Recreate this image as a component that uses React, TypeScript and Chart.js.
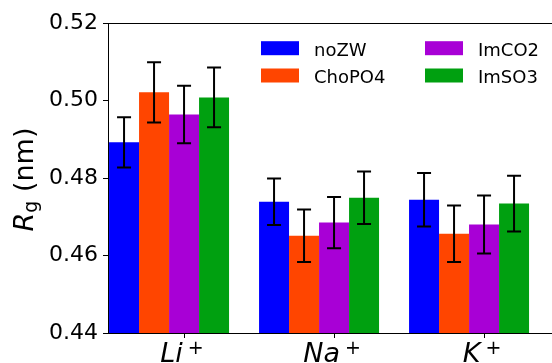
import React, { useEffect, useRef } from "react";
import { Chart, registerables } from "chart.js";

Chart.register(...registerables);

// ---- data ----
const categories = ["Li", "Na", "K"];
const chargeSign = "+";
const seriesNames = ["noZW", "ChoPO4", "ImCO2", "ImSO3"];

const noZW = [0.4892, 0.4739, 0.4744];
const noZWErr = [0.0065, 0.006, 0.0069];
const choPO4 = [0.5021, 0.4651, 0.4656];
const choPO4Err = [0.0078, 0.0068, 0.0073];
const imCO2 = [0.4964, 0.4685, 0.468];
const imCO2Err = [0.0074, 0.0066, 0.0075];
const imSO3 = [0.5008, 0.4749, 0.4734];
const imSO3Err = [0.0077, 0.0068, 0.0072];

const yTicks = [0.44, 0.46, 0.48, 0.5, 0.52];

const seriesValues = [noZW, choPO4, imCO2, imSO3];
const seriesErrors = [noZWErr, choPO4Err, imCO2Err, imSO3Err];
const seriesColors = ["#0000ff", "#ff4500", "#a800d6", "#00a010"];

const FONT = "'DejaVu Sans', sans-serif";

const errorBarsPlugin = {
  id: "errorBars",
  afterDatasetsDraw(chart: any) {
    const { ctx } = chart;
    const yScale = chart.scales.y;
    ctx.save();
    ctx.strokeStyle = "#000";
    ctx.lineWidth = 2;
    chart.data.datasets.forEach((_ds: any, di: number) => {
      const meta = chart.getDatasetMeta(di);
      meta.data.forEach((bar: any, i: number) => {
        const v = seriesValues[di][i];
        const e = seriesErrors[di][i];
        const x = bar.x;
        const t = yScale.getPixelForValue(v + e);
        const b = yScale.getPixelForValue(v - e);
        const cap = 7;
        ctx.beginPath();
        ctx.moveTo(x, t);
        ctx.lineTo(x, b);
        ctx.moveTo(x - cap, t);
        ctx.lineTo(x + cap, t);
        ctx.moveTo(x - cap, b);
        ctx.lineTo(x + cap, b);
        ctx.stroke();
      });
    });
    ctx.restore();
  },
};

const decorPlugin = {
  id: "decor",
  afterDraw(chart: any) {
    const { ctx, chartArea } = chart;
    const { left, right, top, bottom } = chartArea;
    ctx.save();

    // top spine
    ctx.strokeStyle = "#000";
    ctx.lineWidth = 1;
    ctx.beginPath();
    const ty = Math.round(top) + 0.5;
    ctx.moveTo(left, ty);
    ctx.lineTo(right, ty);
    ctx.stroke();

    // legend (2 columns, column-major)
    ctx.font = `18px ${FONT}`;
    ctx.textAlign = "left";
    ctx.textBaseline = "alphabetic";
    chart.data.datasets.forEach((ds: any, di: number) => {
      const col = Math.floor(di / 2);
      const row = di % 2;
      const bx = left + 153 + col * 164;
      const by = top + 18.2 + row * 27.3;
      ctx.fillStyle = ds.backgroundColor;
      ctx.fillRect(bx, by, 38, 14);
      ctx.fillStyle = "#000";
      ctx.fillText(ds.label, bx + 53, by + 14.3);
    });

    // x tick labels (italic with superscript)
    const xl = chart.scales.xl;
    categories.forEach((cat, i) => {
      const cx = xl.getPixelForValue(i) - 2;
      ctx.font = `italic 27px ${FONT}`;
      const wMain = ctx.measureText(cat).width;
      ctx.font = `19px ${FONT}`;
      const wSup = ctx.measureText(chargeSign).width;
      const gap = 5;
      const total = wMain + gap + wSup;
      const sx = cx - total / 2;
      const base = 361.5;
      ctx.fillStyle = "#000";
      ctx.font = `italic 27px ${FONT}`;
      ctx.fillText(cat, sx, base);
      ctx.font = `19px ${FONT}`;
      ctx.fillText(chargeSign, sx + wMain + gap, base - 8);
    });

    // y axis title: R_g (nm)
    const cy = (top + bottom) / 2 + 1.5;
    ctx.translate(33, cy);
    ctx.rotate(-Math.PI / 2);
    ctx.font = `italic 27px ${FONT}`;
    const wR = ctx.measureText("R").width;
    ctx.font = `19px ${FONT}`;
    const wg = ctx.measureText("g").width;
    ctx.font = `27px ${FONT}`;
    const wRest = ctx.measureText(" (nm)").width;
    const start = -(wR + wg + wRest) / 2;
    ctx.fillStyle = "#000";
    ctx.font = `italic 27px ${FONT}`;
    ctx.fillText("R", start, 0);
    ctx.font = `19px ${FONT}`;
    ctx.fillText("g", start + wR, 4);
    ctx.font = `27px ${FONT}`;
    ctx.fillText(" (nm)", start + wR + wg, 0);

    ctx.restore();
  },
};

export default function App() {
  const canvasRef = useRef<HTMLCanvasElement | null>(null);

  useEffect(() => {
    document.body.style.margin = "0";
    const canvas = canvasRef.current;
    if (!canvas) return;
    Chart.defaults.font.family = FONT;

    const chart = new Chart(canvas, {
      type: "bar",
      data: {
        datasets: seriesNames.map((name, di) => ({
          label: name,
          data: categories.map((_c, i) => ({ x: i, y: seriesValues[di][i] })),
          backgroundColor: seriesColors[di],
          borderWidth: 0,
          categoryPercentage: 0.8,
          barPercentage: 1.0,
        })),
      },
      options: {
        responsive: false,
        animation: false,
        devicePixelRatio: 1,
        layout: { padding: { top: 23, right: 0, bottom: 0, left: 0 } },
        plugins: {
          legend: { display: false },
          tooltip: { enabled: false },
        },
        scales: {
          x: {
            type: "linear",
            display: false,
            min: -0.407,
            max: 2.553,
            offset: false,
            ticks: { stepSize: 1, includeBounds: false },
            grid: { offset: false },
          },
          xl: {
            type: "linear",
            position: "bottom",
            min: -0.507,
            max: 2.453,
            offset: false,
            ticks: { stepSize: 1, includeBounds: false, display: false },
            grid: {
              drawOnChartArea: false,
              drawTicks: true,
              tickLength: 5,
              color: "#000",
              tickColor: "#000",
              offset: false,
            },
            border: { display: true, color: "#000", width: 1 },
            afterFit: (s: any) => {
              s.height = 30;
            },
          },
          y: {
            type: "linear",
            min: 0.44,
            max: 0.52,
            beginAtZero: false,
            afterBuildTicks: (s: any) => {
              s.ticks = yTicks.map((v) => ({ value: v }));
            },
            ticks: {
              callback: (v: any) => Number(v).toFixed(2),
              font: { size: 22, family: FONT },
              color: "#000",
              padding: 5,
            },
            grid: {
              drawOnChartArea: false,
              tickLength: 5,
              color: "#000",
              tickColor: "#000",
            },
            border: { display: true, color: "#000", width: 1 },
            afterFit: (s: any) => {
              s.width = 108;
            },
          },
        },
      } as any,
      plugins: [errorBarsPlugin, decorPlugin],
    });

    return () => {
      chart.destroy();
    };
  }, []);

  return (
    <div style={{ position: "absolute", left: 0, top: 0, width: 552, height: 363 }}>
      <canvas ref={canvasRef} width={552} height={363} style={{ display: "block" }} />
    </div>
  );
}
